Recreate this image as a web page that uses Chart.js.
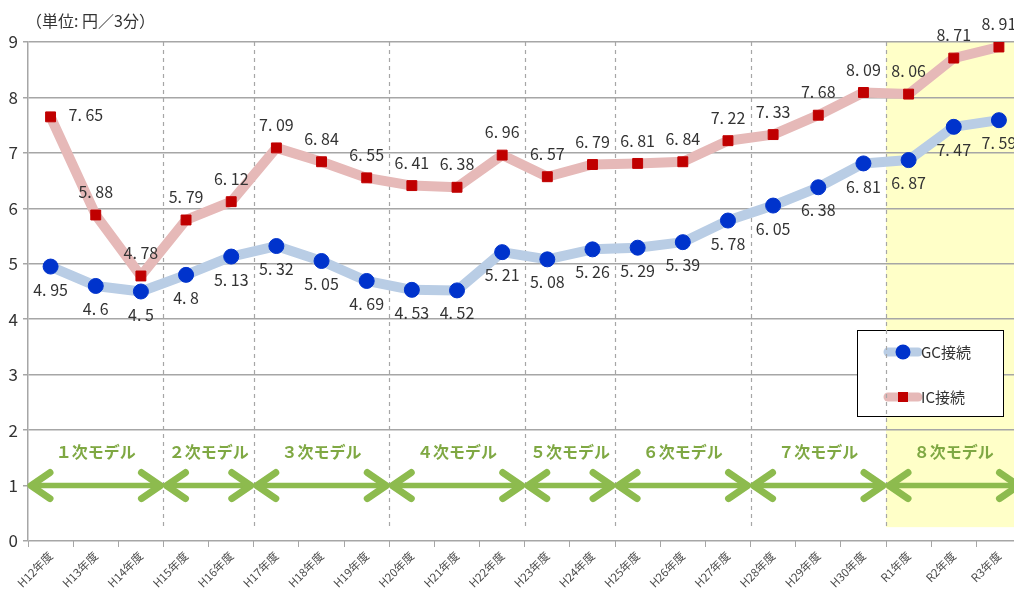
<!DOCTYPE html>
<html>
<head>
<meta charset="utf-8">
<script src="https://cdn.jsdelivr.net/npm/chart.js@4/dist/chart.umd.min.js"></script>
<style>
  html, body { margin: 0; padding: 0; overflow: hidden; background: #fff; }
  #wrap { width: 1030px; height: 592px; }
</style>
</head>
<body>
<div id="wrap"><canvas id="chart" width="1030" height="592"></canvas></div>
<script>
const years = ['H12年度', 'H13年度', 'H14年度', 'H15年度', 'H16年度', 'H17年度', 'H18年度',
  'H19年度', 'H20年度', 'H21年度', 'H22年度', 'H23年度', 'H24年度', 'H25年度', 'H26年度',
  'H27年度', 'H28年度', 'H29年度', 'H30年度', 'R1年度', 'R2年度', 'R3年度'];
const gcValues = [4.95, 4.6, 4.5, 4.8, 5.13, 5.32, 5.05, 4.69, 4.53, 4.52, 5.21,
  5.08, 5.26, 5.29, 5.39, 5.78, 6.05, 6.38, 6.81, 6.87, 7.47, 7.59];
const icValues = [7.65, 5.88, 4.78, 5.79, 6.12, 7.09, 6.84, 6.55, 6.41, 6.38, 6.96,
  6.57, 6.79, 6.81, 6.84, 7.22, 7.33, 7.68, 8.09, 8.06, 8.71, 8.91];
const modelNames = ['１次モデル', '２次モデル', '３次モデル', '４次モデル',
  '５次モデル', '６次モデル', '７次モデル', '８次モデル'];
const modelFirstYear = [0, 3, 5, 8, 11, 13, 16, 19];
const unitLabel = '（単位: 円／3分）';

const JP = '"Noto Sans CJK JP", "Noto Sans", sans-serif';
const GREEN = '#8dbb4e';

// left edge of category i in pixels
function catEdge(x, i) {
  if (i <= 0) return x.left;
  if (i >= years.length) return x.right;
  return (x.getPixelForValue(i - 1) + x.getPixelForValue(i)) / 2;
}

function fmt(v) {
  return String(v).replace('.', '. ');
}

function drawHead(ctx, tipX, y, dir) {
  ctx.beginPath();
  ctx.moveTo(tipX + dir * 22, y - 13);
  ctx.lineTo(tipX + dir * 3, y);
  ctx.lineTo(tipX + dir * 22, y + 13);
  ctx.stroke();
}

const backdrop = {
  id: 'backdrop',
  beforeDraw(chart) {
    const { ctx, chartArea: a, scales: { x, y } } = chart;
    const x0 = catEdge(x, modelFirstYear[modelFirstYear.length - 1]);
    ctx.save();
    ctx.fillStyle = '#ffffc8';
    ctx.fillRect(x0, a.top, a.right - x0, y.getPixelForValue(0.25) - a.top);
    // unit caption
    ctx.fillStyle = '#333';
    ctx.font = '16px ' + JP;
    ctx.textBaseline = 'middle';
    ctx.fillText(unitLabel, 26, 21);
    ctx.restore();
  }
};

const models = {
  id: 'models',
  beforeDatasetsDraw(chart) {
    const { ctx, chartArea: a, scales: { x, y } } = chart;
    ctx.save();

    // legend box
    const lx = 857, ly = 330, lw = 146, lh = 86;
    ctx.fillStyle = '#fff';
    ctx.fillRect(lx, ly, lw, lh);
    ctx.strokeStyle = '#000';
    ctx.lineWidth = 1;
    ctx.strokeRect(lx + 0.5, ly + 0.5, lw, lh);
    const items = [
      { text: 'GC接続', line: '#b9cde5', mark: '#0033cc', round: true, y: 352 },
      { text: 'IC接続', line: '#e6b9b8', mark: '#c00000', round: false, y: 397 }
    ];
    items.forEach(it => {
      ctx.strokeStyle = it.line;
      ctx.lineWidth = 9;
      ctx.lineCap = 'round';
      ctx.beginPath();
      ctx.moveTo(888, it.y);
      ctx.lineTo(918, it.y);
      ctx.stroke();
      ctx.fillStyle = it.mark;
      if (it.round) {
        ctx.beginPath();
        ctx.arc(903, it.y, 7.5, 0, Math.PI * 2);
        ctx.fill();
      } else {
        ctx.fillRect(898, it.y - 5, 10, 10);
      }
      ctx.fillStyle = '#333';
      ctx.font = '15px ' + JP;
      ctx.textBaseline = 'middle';
      ctx.textAlign = 'left';
      ctx.fillText(it.text, 921, it.y);
    });

    // dashed model boundaries
    ctx.strokeStyle = '#a6a6a6';
    ctx.lineWidth = 1.2;
    ctx.lineCap = 'butt';
    ctx.setLineDash([4, 4]);
    const yb = y.getPixelForValue(0.25);
    modelFirstYear.slice(1).forEach(i => {
      const bx = Math.round(catEdge(x, i)) + 0.5;
      ctx.beginPath();
      ctx.moveTo(bx, a.top);
      ctx.lineTo(bx, yb);
      ctx.stroke();
    });
    ctx.setLineDash([]);

    // arrows and model names
    const ya = y.getPixelForValue(1);
    const yt = y.getPixelForValue(1.6);
    modelNames.forEach((name, k) => {
      const xs = catEdge(x, modelFirstYear[k]);
      const xe = catEdge(x, k + 1 < modelFirstYear.length ? modelFirstYear[k + 1] : years.length);
      ctx.strokeStyle = GREEN;
      ctx.lineCap = 'round';
      ctx.lineJoin = 'round';
      ctx.lineWidth = 5.5;
      ctx.beginPath();
      ctx.moveTo(xs + 4, ya);
      ctx.lineTo(xe - 4, ya);
      ctx.stroke();
      ctx.lineWidth = 7;
      drawHead(ctx, xs, ya, 1);
      drawHead(ctx, xe, ya, -1);
      ctx.fillStyle = '#7fa843';
      ctx.font = 'bold 16px ' + JP;
      ctx.textAlign = 'center';
      ctx.textBaseline = 'middle';
      ctx.fillText(name, (xs + xe) / 2, yt);
    });
    ctx.restore();
  }
};

const valueLabels = {
  id: 'valueLabels',
  afterDatasetsDraw(chart) {
    const ctx = chart.ctx;
    ctx.save();
    ctx.fillStyle = '#333';
    ctx.font = '16px ' + JP;
    ctx.textBaseline = 'middle';
    chart.getDatasetMeta(0).data.forEach((pt, i) => {
      ctx.textAlign = 'center';
      ctx.fillText(fmt(gcValues[i]), pt.x, pt.y + 23);
    });
    chart.getDatasetMeta(1).data.forEach((pt, i) => {
      if (i === 0) {
        ctx.textAlign = 'left';
        ctx.fillText(fmt(icValues[i]), pt.x + 18, pt.y - 2);
      } else {
        ctx.textAlign = 'center';
        ctx.fillText(fmt(icValues[i]), pt.x, pt.y - 23);
      }
    });
    ctx.restore();
  }
};

new Chart(document.getElementById('chart'), {
  type: 'line',
  data: {
    labels: years,
    datasets: [
      {
        label: 'GC接続',
        data: gcValues,
        borderColor: '#b9cde5',
        borderWidth: 10,
        borderJoinStyle: 'round',
        borderCapStyle: 'round',
        tension: 0,
        pointStyle: 'circle',
        pointRadius: 7.5,
        pointBackgroundColor: '#0033cc',
        pointBorderColor: '#0033cc',
        pointBorderWidth: 1
      },
      {
        label: 'IC接続',
        data: icValues,
        borderColor: '#e6b9b8',
        borderWidth: 10,
        borderJoinStyle: 'round',
        borderCapStyle: 'round',
        tension: 0,
        pointStyle: 'rect',
        pointRadius: 7,
        pointBackgroundColor: '#c00000',
        pointBorderColor: '#c00000',
        pointBorderWidth: 1
      }
    ]
  },
  options: {
    responsive: false,
    animation: false,
    layout: { padding: { top: 42, right: 8, left: 0, bottom: 0 } },
    plugins: {
      legend: { display: false },
      tooltip: { enabled: false }
    },
    scales: {
      x: {
        offset: true,
        grid: { offset: true, drawOnChartArea: false, tickLength: 6, color: '#a6a6a6' },
        border: { display: false },
        ticks: {
          autoSkip: false, minRotation: 45, maxRotation: 45, padding: 2,
          font: { family: JP, size: 11.5 }, color: '#4d4d4d'
        },
        afterFit(s) { s.height = 51; }
      },
      y: {
        min: 0,
        max: 9,
        ticks: { stepSize: 1, padding: 5, font: { family: JP, size: 17 }, color: '#333' },
        grid: { color: '#a6a6a6', lineWidth: 1.5, tickLength: 5 },
        border: { color: '#a6a6a6', width: 1.5 },
        afterFit(s) { s.width = 28; }
      }
    }
  },
  plugins: [backdrop, models, valueLabels]
});
</script>
</body>
</html>
